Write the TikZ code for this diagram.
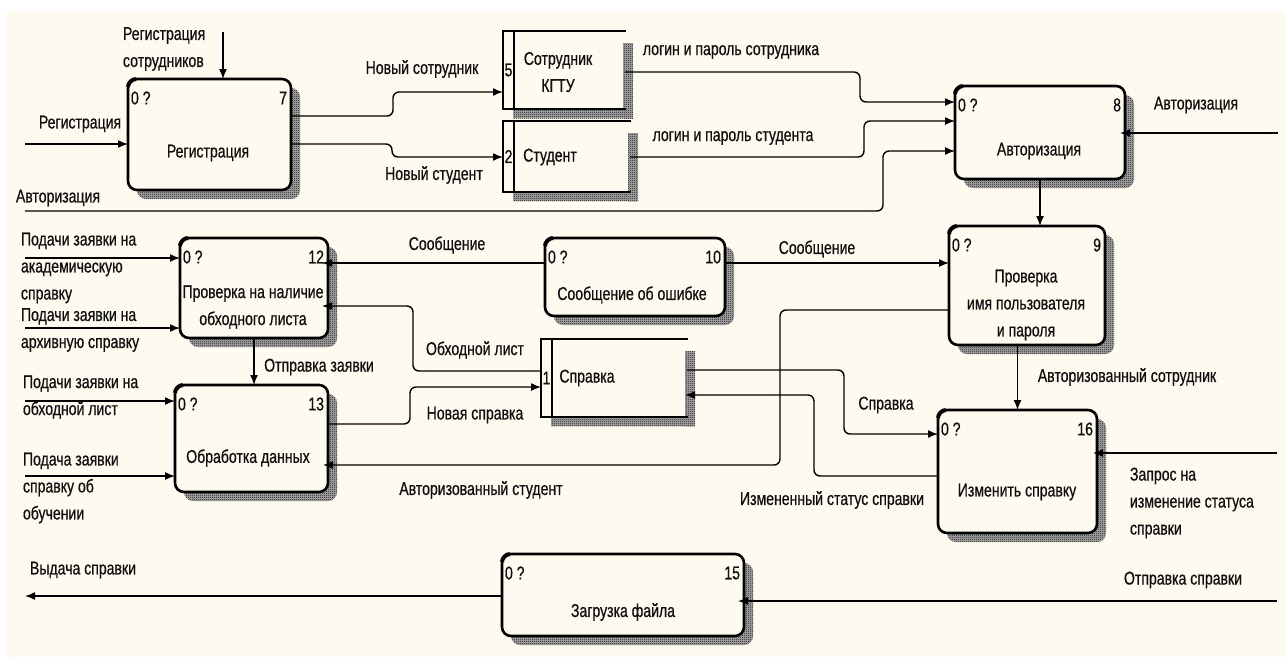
\documentclass[tikz,border=0pt]{standalone}
\usepackage{fontspec}
\setmainfont{Liberation Sans}[FakeStretch=0.76,FakeBold=0.6]
\usetikzlibrary{arrows.meta,shadows,patterns,calc}
\definecolor{paper}{RGB}{255,250,240}
\definecolor{ink}{RGB}{15,15,15}
\definecolor{hatch}{RGB}{20,20,20}
\definecolor{hatchbg}{RGB}{170,170,170}

% fine checkerboard used for the box shadows
\pgfdeclarepatternformonly{checker}{\pgfpointorigin}{\pgfpoint{2pt}{2pt}}{\pgfpoint{2pt}{2pt}}{%
  \pgfpathrectangle{\pgfpointorigin}{\pgfpoint{1pt}{1pt}}%
  \pgfpathrectangle{\pgfpoint{1pt}{1pt}}{\pgfpoint{1pt}{1pt}}%
  \pgfusepath{fill}}

\begin{document}
\begin{tikzpicture}[x=1pt,y=-1pt,
  every node/.style={font=\fontsize{18.5}{27}\selectfont, text=ink, inner sep=0pt, outer sep=0pt},
  proc/.style={draw=black, line width=2.6pt, rounded corners=9pt, fill=paper, anchor=north west,
    drop shadow={shadow xshift=9pt, shadow yshift=-9pt, opacity=1, fill=hatchbg,
      postaction={pattern=checker, pattern color=hatch}}},
  store/.style={anchor=north west},
  storeline/.style={line width=2.6pt, line cap=rect},
  shade/.style={fill=hatchbg, postaction={pattern=checker, pattern color=hatch}},
  conn/.style={line width=1.4pt, rounded corners=6pt},
  arr/.style={conn, -{Latex[length=10pt,width=8pt]}},
  lbl/.style={align=left},
]
\useasboundingbox (0,0) rectangle (1285,657);
\fill[white] (0,0) rectangle (1285,657);
\fill[paper] (7,11) rectangle (1285,657);

% ---------- activity boxes ----------
\node[proc, minimum width=163pt, minimum height=111pt] (b7)  at (128,79)  {};
\node[proc, minimum width=170pt, minimum height=93pt]  (b8)  at (955,86)  {};
\node[proc, minimum width=156pt, minimum height=119pt] (b9)  at (949,226) {};
\node[proc, minimum width=180pt, minimum height=78pt]  (b10) at (545,238) {};
\node[proc, minimum width=148pt, minimum height=100pt] (b12) at (180,238) {};
\node[proc, minimum width=153pt, minimum height=107pt] (b13) at (175,385) {};
\node[proc, minimum width=159pt, minimum height=123pt] (b16) at (938,410) {};
\node[proc, minimum width=242pt, minimum height=82pt]  (b15) at (502,554) {};

\foreach \b in {b7,b8,b9,b10,b12,b13,b16,b15}
  \draw[line width=4pt] ([yshift=-8pt]\b.north west) .. controls ([yshift=-4pt]\b.north west) and ([xshift=4pt]\b.north west) .. ([xshift=8pt]\b.north west);

% box numbers
\foreach \b/\k in {b7/7,b8/8,b9/9,b10/10,b12/12,b13/13,b16/16,b15/15}{
  \node[anchor=west] (\b-id) at ($(\b.north west)+(3,19)$) {0 ?};
  \node[anchor=east] (\b-no) at ($(\b.north east)+(-4,19)$) {\k};
}

% box titles
\node (b7-t)  at (208,153) {Регистрация};
\node (b8-t)  at (1039,151) {Авторизация};
\node[align=center] (b9-t) at (1026,305) {Проверка\\имя пользователя\\и пароля};
\node (b10-t) at (632,295) {Сообщение об ошибке};
\node[align=center] (b12-t) at (253,307) {Проверка на наличие\\обходного листа};
\node (b13-t) at (248,458) {Обработка данных};
\node (b16-t) at (1017,492) {Изменить справку};
\node (b15-t) at (623,612) {Загрузка файла};

% ---------- data stores ----------
\node[store, minimum width=122pt, minimum height=78pt] (s5) at (503,31)  {};
\node[store, minimum width=127pt, minimum height=71pt] (s2) at (503,121) {};
\node[store, minimum width=146pt, minimum height=78pt] (s1) at (541,339) {};

\foreach \s/\k in {s5/5,s2/2,s1/1}{
  \fill[shade] ($(\s.north east)+(-2,12)$) rectangle ($(\s.south east)+(8,9)$);
  \fill[shade] ($(\s.south west)+(10,0)$) rectangle ($(\s.south east)+(8,9)$);
  \fill[paper] (\s.north west) rectangle ($(\s.south east)+(-2,0)$);
  \draw[storeline] (\s.north east) -- (\s.north west) -- (\s.south west) -- (\s.south east);
  \draw[storeline] ($(\s.north west)+(11,0)$) -- ($(\s.south west)+(11,0)$);
  \node (\s-no) at ($(\s.west)+(5.5,0)$) {\k};
}
\node[align=center] (s5-t) at (558,72) {Сотрудник\\КГТУ};
\node (s2-t) at (550,157) {Студент};
\node (s1-t) at (587,378) {Справка};

% ---------- boundary ends ----------
\coordinate (eRegStaff) at (223,32);
\coordinate (eReg)      at (25,144);
\coordinate (eAuthL)    at (25,211);
\coordinate (eAuthR)    at (1278,133);
\coordinate (eAcad)     at (25,258);
\coordinate (eArch)     at (25,328);
\coordinate (eBypass)   at (25,401);
\coordinate (eStudy)    at (25,476);
\coordinate (eRequest)  at (1277,453);
\coordinate (eSendCert) at (1277,601);
\coordinate (eIssue)    at (25,596);

% ---------- arrows ----------
\draw[arr] (eRegStaff) -- (eRegStaff |- b7.north);
\draw[arr] (eReg) -- (eReg -| b7.west);
\draw[arr] (eAuthL) -- (883,211) -- (883,151) -- (b8.west |- 0,151);
\draw[arr] (b7.east |- 0,116) -- (393,116) -- (393,92) -- (s5.west |- 0,92);
\draw[arr] (b7.east |- 0,144) -- (392,144) -- (392,157) -- (s2.west |- 0,157);
\draw[arr] (s5.east |- 0,72) -- (860,72) -- (860,102) -- (b8.west |- 0,102);
\draw[arr] (s2.east |- 0,157) -- (864,157) -- (864,121) -- (b8.west |- 0,121);
\draw[arr, shorten >=-5pt] (eAuthR) -- (eAuthR -| b8.east);
\draw[arr] (b8.south) -- (b8.south |- b9.north);

\draw[arr, shorten >=-6pt] (b10.west |- 0,263) -- (b12.east |- 0,263);
\draw[arr] (b10.east |- 0,263) -- (b9.west |- 0,263);

\draw[arr] (eAcad) -- (eAcad -| b12.west);
\draw[arr] (eArch) -- (eArch -| b12.west);
\draw[arr] (eBypass) -- (eBypass -| b13.west);
\draw[arr] (eStudy) -- (eStudy -| b13.west);
\draw[arr] (b12.south) -- (b12.south |- b13.north);

\draw[arr, shorten >=-6pt] (s1.west |- 0,371) -- (413,371) -- (413,306) -- (b12.east |- 0,306);
\draw[arr] (b13.east |- 0,424) -- (410,424) -- (410,387) -- (s1.west |- 0,387);
\draw[arr, shorten >=-5pt] (b9.west |- 0,310) -- (780,310) -- (780,465) -- (b13.east |- 0,465);

\draw[arr] (b16.north |- b9.south) -- (b16.north);
\draw[arr] (s1.east |- 0,370) -- (844,370) -- (844,434) -- (b16.west |- 0,434);
\draw[arr, shorten >=-2pt] (b16.west |- 0,476) -- (814,476) -- (814,395) -- (s1.east |- 0,395);
\draw[arr, shorten >=-4pt] (eRequest) -- (eRequest -| b16.east);

\draw[arr, shorten >=-6pt] (eSendCert) -- (eSendCert -| b15.east);
\draw[arr] (b15.west |- eIssue) -- (eIssue);

% ---------- arrow labels ----------
\node[lbl, anchor=west] (lRegStaff) at (123,49) {Регистрация\\сотрудников};
\node (lReg)       at (80,124)   {Регистрация};
\node (lAuthL)     at (58,198)   {Авторизация};
\node (lNewStaff)  at (422,69)   {Новый сотрудник};
\node (lNewStud)   at (434,175)  {Новый студент};
\node (lLoginStaff) at (731,52)  {логин и пароль сотрудника};
\node (lLoginStud) at (733,138)  {логин и пароль студента};
\node (lAuthR)     at (1196,105) {Авторизация};
\node (lMsgL)      at (447,245)  {Сообщение};
\node (lMsgR)      at (817,249)  {Сообщение};
\node[lbl, anchor=west] (lAcad)   at (21,268) {Подачи заявки на\\академическую\\справку};
\node[lbl, anchor=west] (lArch)   at (21,330) {Подачи заявки на\\архивную справку};
\node[lbl, anchor=west] (lBypass) at (23,397) {Подачи заявки на\\обходной лист};
\node[lbl, anchor=west] (lStudy)  at (23,488) {Подача заявки\\справку об\\обучении};
\node (lSend)      at (319,367)  {Отправка заявки};
\node (lBypassL)   at (475,350)  {Обходной лист};
\node (lNewCert)   at (475,415)  {Новая справка};
\node (lAuthStud)  at (481,490)  {Авторизованный студент};
\node (lAuthStaff) at (1127,377) {Авторизованный сотрудник};
\node (lCert)      at (886,405)  {Справка};
\node (lChanged)   at (832,500)  {Измененный статус справки};
\node[lbl, anchor=west] (lRequest) at (1130,503) {Запрос на\\изменение статуса\\справки};
\node (lSendCert)  at (1183,580) {Отправка справки};
\node (lIssue)     at (83,570)   {Выдача справки};
\end{tikzpicture}
\end{document}
